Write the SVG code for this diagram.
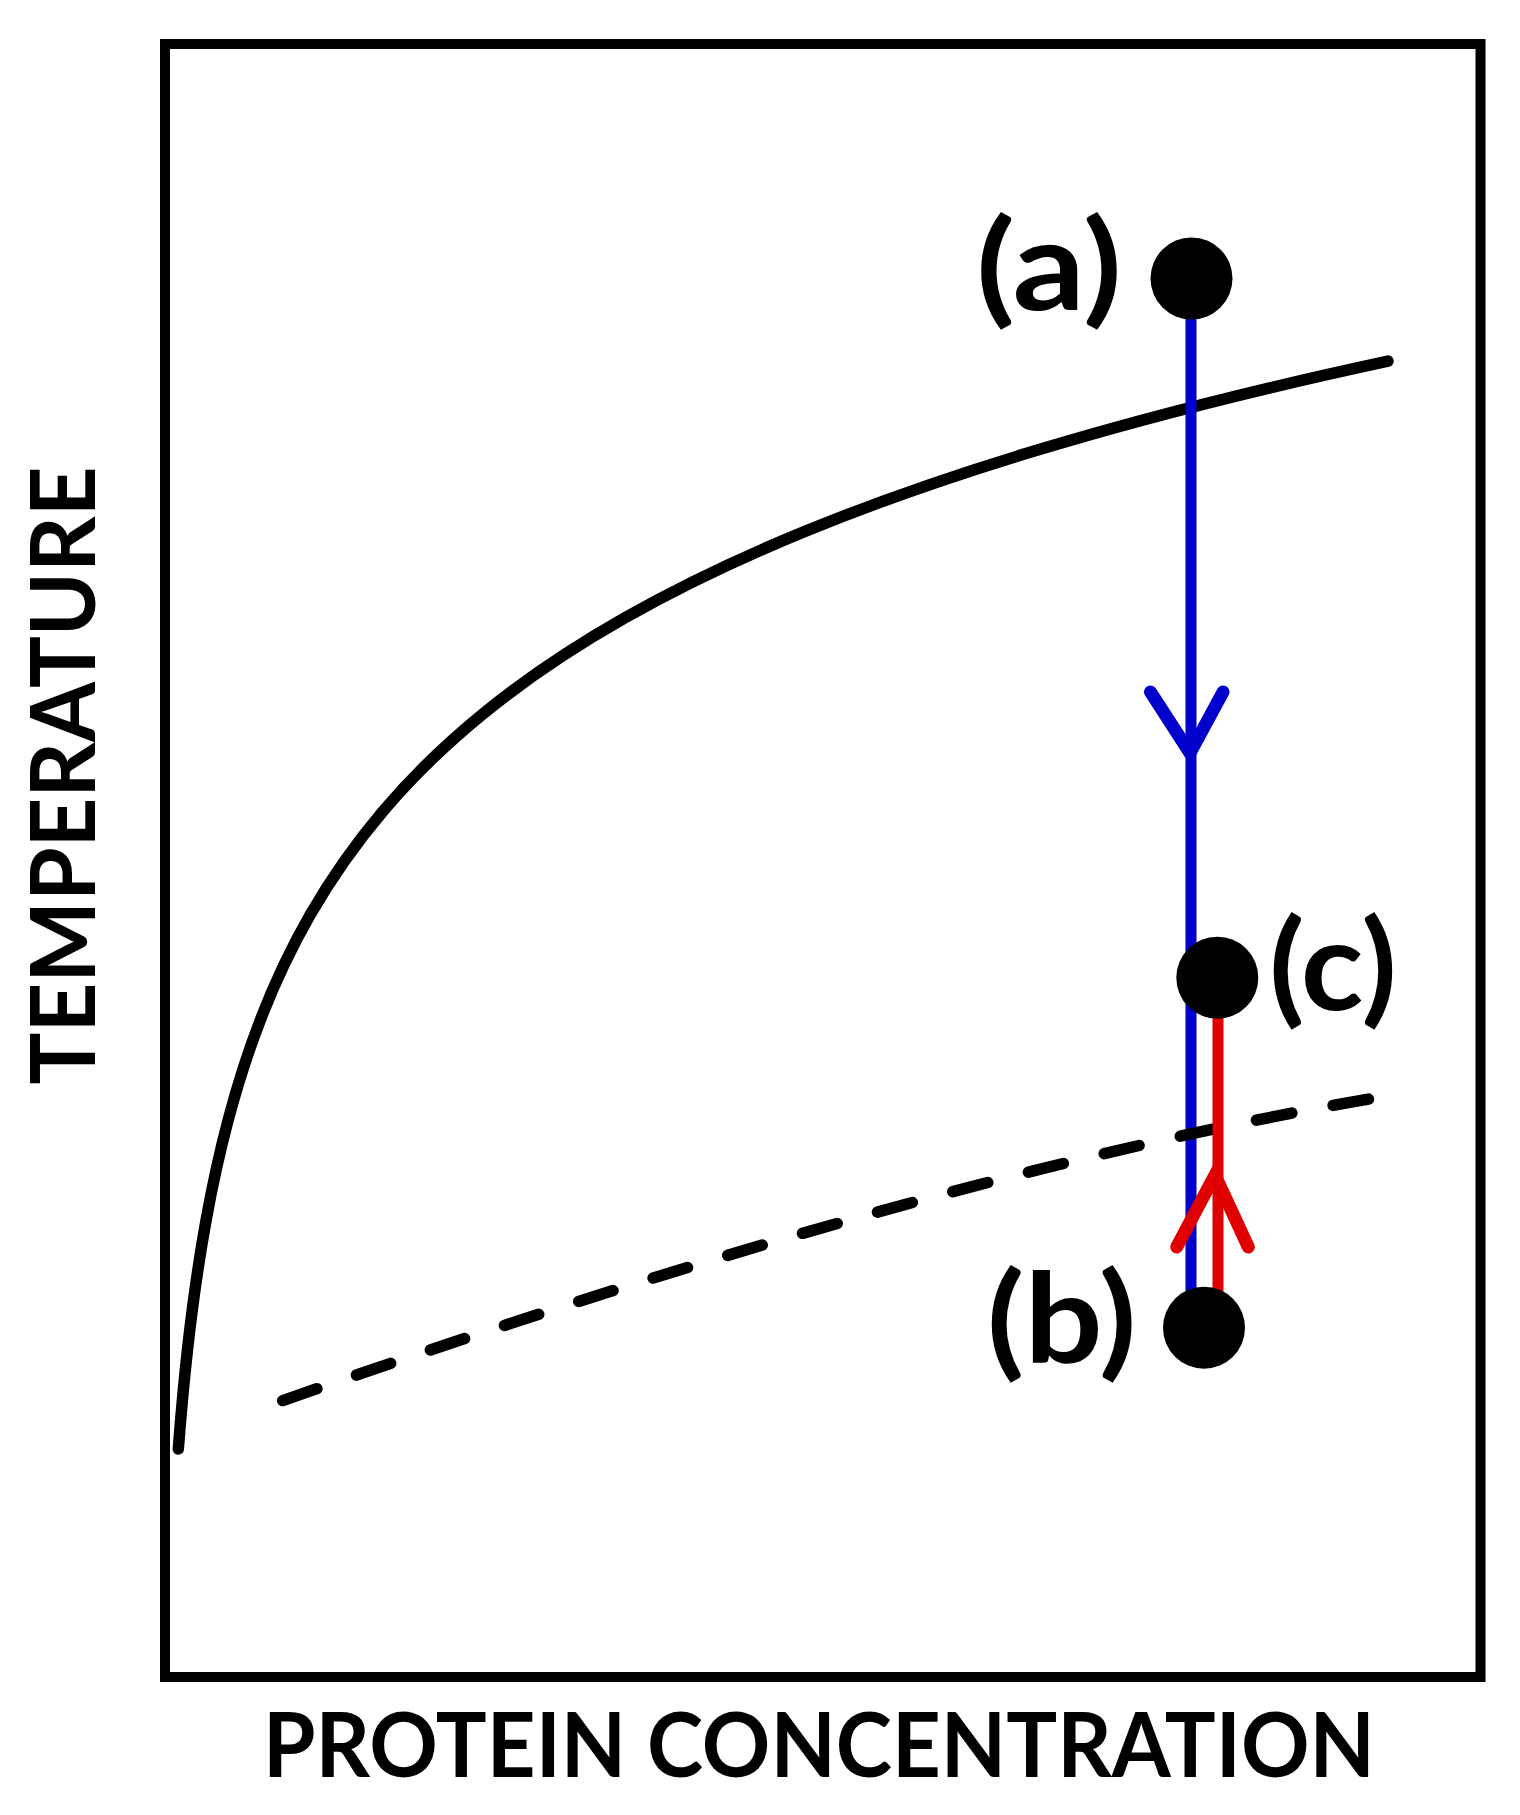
<svg xmlns="http://www.w3.org/2000/svg" width="1520" height="1815" viewBox="0 0 1520 1815">
<style>
.lbl{font-family:"Lato","Open Sans","Liberation Sans",sans-serif;font-weight:bold;fill:#000}
.curve{fill:none;stroke:#000;stroke-width:11.5;stroke-linecap:round;stroke-linejoin:round}
.blue{fill:none;stroke:#0000CC;stroke-width:11;stroke-linecap:round;stroke-linejoin:miter}
.red{fill:none;stroke:#E00000;stroke-width:11;stroke-linecap:round;stroke-linejoin:miter}
.head{stroke-width:13}
.dot{fill:#000}
</style>
<rect width="1520" height="1815" fill="#fff"/>
<g id="frame">
<rect x="165" y="44" width="1315.5" height="1633" fill="none" stroke="#000" stroke-width="10"/>
</g>
<g id="axis-labels">
<text class="lbl" x="819" y="1777" font-size="89" text-anchor="middle" textLength="1112" lengthAdjust="spacingAndGlyphs">PROTEIN CONCENTRATION</text>
<text class="lbl" transform="translate(95,775.5) rotate(-90)" x="0" y="0" font-size="89" text-anchor="middle" textLength="618" lengthAdjust="spacingAndGlyphs">TEMPERATURE</text>
</g>
<g id="curves">
<path id="solid-curve" class="curve" d="M178.3,1449 C179.87,1428.25 181.43,1410.11 183,1393.5 C186,1361.7 189,1335.38 192,1312 C196.67,1275.63 201.33,1246.37 206,1220.6 C213.33,1180.11 220.67,1148.36 228,1120.6 C239,1078.95 250,1046.6 261,1018.3 C277.33,976.27 293.67,943.67 310,915.2 C334.33,872.79 358.67,839.86 383,811.2 C417,771.15 451,739.74 485,712.2 C531.67,674.4 578.33,644.28 625,617.8 C685,583.75 745,555.98 805,531.4 C878.33,501.36 951.67,476.22 1025,453.8 C1106.67,428.83 1188.33,407.26 1270,387.8 C1309.33,378.43 1348.67,369.57 1388,361.1"/>
</g>
<g id="connectors">
<path id="cooling-line" class="blue" d="M1191,300 L1191,1300"/>
<path id="cooling-arrowhead" class="blue head" d="M1150.5,692 L1190,753 L1223,692"/>
<path id="dashed-curve" class="curve" stroke-width="11" stroke-dasharray="36 42" d="M282.7,1400.6 Q932,1173.3 1375,1098"/>
<path id="heating-line" class="red" d="M1218,1010 L1218,1300"/>
<path id="heating-arrowhead" class="red head" d="M1176.7,1247 L1215,1175 L1248.3,1247"/>
</g>
<g id="node-a">
<circle class="dot" cx="1191.5" cy="278.5" r="41"/>
<text class="lbl" x="1049" y="310" font-size="124" text-anchor="middle" textLength="146" lengthAdjust="spacingAndGlyphs">(a)</text>
</g>
<g id="node-b">
<circle class="dot" cx="1204" cy="1327.7" r="41"/>
<text class="lbl" x="1061.7" y="1362.7" font-size="124" text-anchor="middle" textLength="150" lengthAdjust="spacingAndGlyphs">(b)</text>
</g>
<g id="node-c">
<circle class="dot" cx="1217.3" cy="977.7" r="41"/>
<text class="lbl" x="1333" y="1010" font-size="124" text-anchor="middle" textLength="128" lengthAdjust="spacingAndGlyphs">(c)</text>
</g>
</svg>
